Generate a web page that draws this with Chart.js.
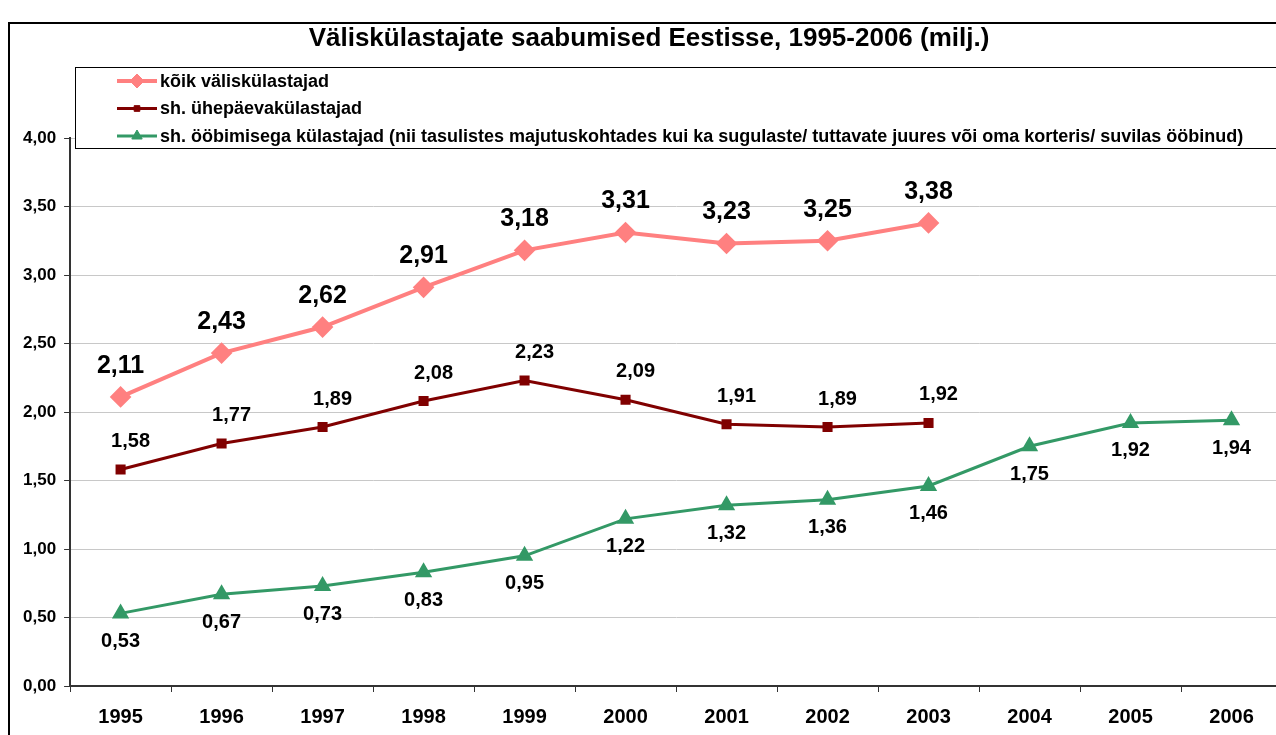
<!DOCTYPE html>
<html>
<head>
<meta charset="utf-8">
<script src="https://cdn.jsdelivr.net/npm/chart.js@4.4.0/dist/chart.umd.min.js"></script>
<style>
    html, body { margin: 0; padding: 0; background: #fff; overflow: hidden; }
    #wrap { position: absolute; left: 0; top: 0; width: 1294px; height: 749px; }
</style>
</head>
<body>
<div id="wrap"><canvas id="chart" width="1294" height="749"></canvas></div>
<script>
// Data
const years = ['1995', '1996', '1997', '1998', '1999', '2000', '2001', '2002', '2003', '2004', '2005', '2006'];
const allVisitors = [2.11, 2.43, 2.62, 2.91, 3.18, 3.31, 3.23, 3.25, 3.38, null, null, null];
const dayVisitors = [1.58, 1.77, 1.89, 2.08, 2.23, 2.09, 1.91, 1.89, 1.92, null, null, null];
const overnightVisitors = [0.53, 0.67, 0.73, 0.83, 0.95, 1.22, 1.32, 1.36, 1.46, 1.75, 1.92, 1.94];
const seriesNames = [
    'kõik väliskülastajad',
    'sh. ühepäevakülastajad',
    'sh. ööbimisega külastajad (nii tasulistes majutuskohtades kui ka sugulaste/ tuttavate juures või oma korteris/ suvilas ööbinud)'
];
const titleText = 'Väliskülastajate saabumised Eestisse, 1995-2006 (milj.)';

const FONT = '"Liberation Sans", Arial, sans-serif';

function fmt(v) {
    return v.toFixed(2).replace('.', ',');
}

function drawMarker(ctx, style, r, x, y) {
    ctx.save();
    Chart.helpers.drawPoint(ctx, { pointStyle: style, radius: r, rotation: 0, borderWidth: 1 }, x, y);
    ctx.restore();
}

// Value labels for each point
const labelPlugin = {
    id: 'valueLabels',
    afterDatasetsDraw(chart) {
        const ctx = chart.ctx;
        chart.data.datasets.forEach((ds, i) => {
            const meta = chart.getDatasetMeta(i);
            const lbl = ds.valueLabel;
            ctx.save();
            ctx.font = 'bold ' + lbl.size + 'px ' + FONT;
            ctx.fillStyle = '#000';
            ctx.textAlign = 'center';
            ctx.textBaseline = 'middle';
            meta.data.forEach((pt, j) => {
                const v = ds.data[j];
                if (v === null) return;
                ctx.fillText(fmt(v), pt.x + lbl.dx, pt.y + lbl.dy);
            });
            ctx.restore();
        });
    }
};

// Frame, title and legend box
const decorPlugin = {
    id: 'decor',
    afterDraw(chart) {
        const ctx = chart.ctx;
        ctx.save();
        // outer frame
        ctx.strokeStyle = '#000';
        ctx.lineWidth = 2;
        ctx.beginPath();
        ctx.moveTo(9, 749);
        ctx.lineTo(9, 23);
        ctx.lineTo(1294, 23);
        ctx.stroke();

        // title
        ctx.font = 'bold 26px ' + FONT;
        ctx.fillStyle = '#000';
        ctx.textAlign = 'center';
        ctx.textBaseline = 'middle';
        ctx.fillText(titleText, 649, 39);

        // legend box
        ctx.fillStyle = '#fff';
        ctx.fillRect(75, 67, 1225, 81);
        ctx.strokeStyle = '#000';
        ctx.lineWidth = 1;
        ctx.strokeRect(75.5, 67.5, 1225, 81);

        chart.data.datasets.forEach((ds, i) => {
            const y = 81 + i * 27.5;
            ctx.strokeStyle = ds.borderColor;
            ctx.lineWidth = ds.borderWidth;
            ctx.beginPath();
            ctx.moveTo(117, y);
            ctx.lineTo(157, y);
            ctx.stroke();
            ctx.fillStyle = ds.borderColor;
            ctx.strokeStyle = ds.borderColor;
            ctx.lineWidth = 1;
            drawMarker(ctx, ds.pointStyle, ds.pointRadius - 1, 137, y);
            ctx.fillStyle = '#000';
            ctx.font = 'bold 18px ' + FONT;
            ctx.textAlign = 'left';
            ctx.fillText(seriesNames[i], 160, y + 1);
        });
        ctx.restore();
    }
};

const ctx = document.getElementById('chart').getContext('2d');
new Chart(ctx, {
    type: 'line',
    data: {
        labels: years,
        datasets: [
            {
                label: seriesNames[0],
                data: allVisitors,
                borderColor: '#ff8080',
                backgroundColor: '#ff8080',
                borderWidth: 4,
                pointStyle: 'rectRot',
                pointRadius: 8,
                pointHoverRadius: 8,
                valueLabel: { size: 25, dx: 0, dy: -31 }
            },
            {
                label: seriesNames[1],
                data: dayVisitors,
                borderColor: '#800000',
                backgroundColor: '#800000',
                borderWidth: 3,
                pointStyle: 'rect',
                pointRadius: 5,
                pointHoverRadius: 5,
                valueLabel: { size: 20, dx: 10, dy: -28 }
            },
            {
                label: seriesNames[2],
                data: overnightVisitors,
                borderColor: '#339966',
                backgroundColor: '#339966',
                borderWidth: 3,
                pointStyle: 'triangle',
                pointRadius: 7,
                pointHoverRadius: 7,
                valueLabel: { size: 20, dx: 0, dy: 28 }
            }
        ]
    },
    options: {
        responsive: false,
        animation: false,
        layout: { padding: { left: 15, right: 9, top: 138, bottom: 7 } },
        plugins: {
            legend: { display: false },
            title: { display: false },
            tooltip: { enabled: false }
        },
        scales: {
            x: {
                offset: true,
                grid: {
                    offset: true,
                    drawOnChartArea: false,
                    tickLength: 6,
                    tickColor: '#333',
                    tickWidth: 1
                },
                border: { color: '#333', width: 2 },
                ticks: {
                    color: '#000',
                    padding: 13,
                    maxRotation: 0,
                    font: { family: FONT, size: 20, weight: 'bold' }
                }
            },
            y: {
                min: 0,
                max: 4,
                grid: {
                    color: '#c8c8c8',
                    lineWidth: 1,
                    tickLength: 6,
                    tickColor: '#333'
                },
                border: { color: '#333', width: 2 },
                ticks: {
                    stepSize: 0.5,
                    color: '#000',
                    padding: 8,
                    font: { family: FONT, size: 17, weight: 'bold' },
                    callback: v => fmt(v)
                }
            }
        }
    },
    plugins: [labelPlugin, decorPlugin]
});
</script>
</body>
</html>
